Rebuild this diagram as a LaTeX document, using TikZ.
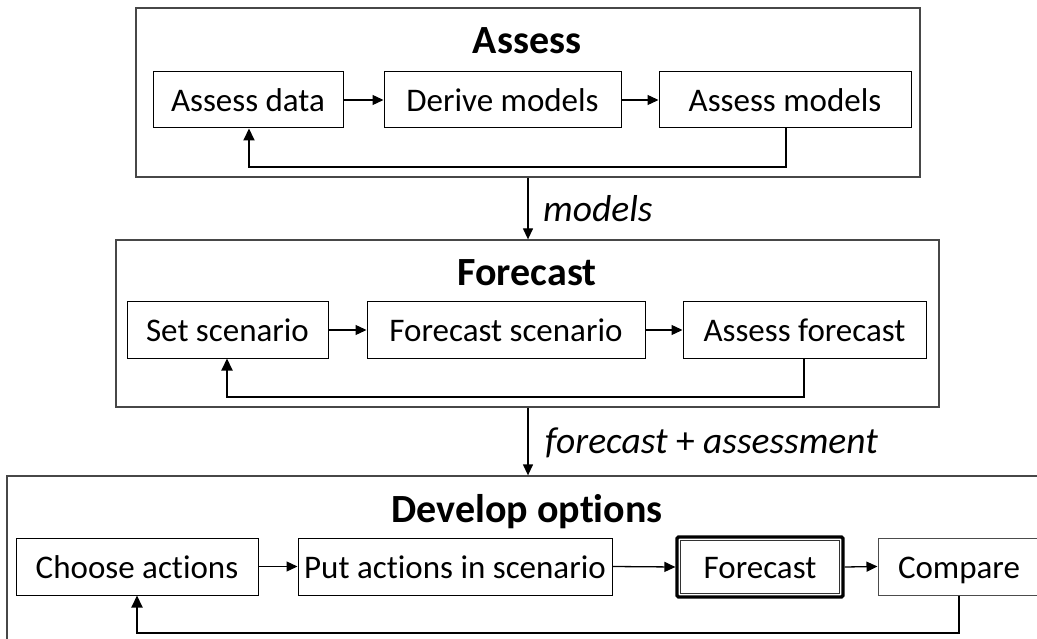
\documentclass[tikz,border=0pt]{standalone}
\usepackage{fontspec}
\setmainfont{Carlito}[Ligatures={NoCommon}]
\usetikzlibrary{arrows.meta,calc}
\begin{document}
\begin{tikzpicture}[x=1pt,y=-1pt,
 stage/.style={draw=black!72, line width=1.3pt, inner sep=0pt},
 task/.style={draw=black, line width=1pt, inner sep=0pt, minimum height=56pt,
   font=\fontsize{33}{40}\selectfont, text height=30pt, text depth=6.6pt},
 stitle/.style={font=\fontsize{40}{48}\selectfont\bfseries, inner sep=0pt, anchor=base},
 flow/.style={-{Triangle[length=11pt,width=10pt]}, line width=1.3pt},
 loop/.style={-{Triangle[length=12pt,width=11pt]}, line width=2pt},
 lbl/.style={font=\fontsize{37.5}{45}\selectfont\itshape, anchor=base west, inner sep=0pt}]
\useasboundingbox (0,0) rectangle (1037,639);
\clip (0,0) rectangle (1037,639);

% stage boxes
\node[stage, minimum width=784pt, minimum height=169pt] (top) at (528,92.5) {};
\node[stage, minimum width=823pt, minimum height=167pt] (mid) at (527.5,323.5) {};
\node[stage, minimum width=1040pt, minimum height=173pt] (bot) at (527,562.5) {};

% titles
\node[stitle] (t1) at (527,54) {Assess};
\node[stitle] (t2) at (527,286) {Forecast};
\node[stitle] (t3) at (527,522) {Develop options};

% row 1
\node[task, minimum width=190pt] (ad) at (248,100) {Assess data};
\node[task, minimum width=237pt] (dm) at (502.5,100) {Derive models};
\node[task, minimum width=252pt] (am) at (785,100) {Assess models};
\draw[flow] (ad.east) -- (dm.west);
\draw[flow] (dm.east) -- (am.west);
\coordinate (r1) at (786,167);
\coordinate (l1) at (249,167);
\draw[loop] (r1 |- am.south) -- (r1) -- (l1) -- (l1 |- ad.south);

% row 2
\node[task, minimum width=201pt] (ss) at (227.5,330) {Set scenario};
\node[task, minimum width=278pt] (fs) at (506,330) {Forecast scenario};
\node[task, minimum width=243pt] (af) at (804.5,330) {Assess forecast};
\draw[flow] (ss.east) -- (fs.west);
\draw[flow] (fs.east) -- (af.west);
\coordinate (r2) at (804,397);
\coordinate (l2) at (227,397);
\draw[loop] (r2 |- af.south) -- (r2) -- (l2) -- (l2 |- ss.south);

% row 3
\node[task, minimum width=242pt, minimum height=57pt] (ca) at (137,566.5) {Choose actions};
\node[task, minimum width=314pt, minimum height=57pt] (pa) at (455,566.5) {Put actions in scenario};
\node[task, minimum width=166pt, minimum height=60pt, line width=3.2pt, rounded corners=1.5pt] (fc) at (760,567) {Forecast};
\draw[line width=0.9pt, draw=black!80] ([shift={(5.5pt,5.5pt)}]fc.south west) rectangle ([shift={(-5.5pt,-5.5pt)}]fc.north east);
\node[task, minimum width=162pt, minimum height=57pt, draw=black!70] (cp) at (959,566.5) {Compare};
\draw[flow] (ca.east) -- (pa.west);
\draw[flow] (pa.east) -- (fc.west);
\draw[flow] (fc.east) -- (cp.west);
\coordinate (r3) at (959,633);
\coordinate (l3) at (137,633);
\draw[loop] (r3 |- cp.south) -- (r3) -- (l3) -- (l3 |- ca.south);

% between stages
\coordinate (m1) at (528,0);
\draw[flow] (m1 |- top.south) -- (m1 |- mid.north);
\node[lbl] (lm) at (543,222) {models};
\draw[flow] (m1 |- mid.south) -- (m1 |- bot.north);
\node[lbl] (lf) at (545,453) {forecast \upshape+ \itshape assessment};
\end{tikzpicture}
\end{document}
